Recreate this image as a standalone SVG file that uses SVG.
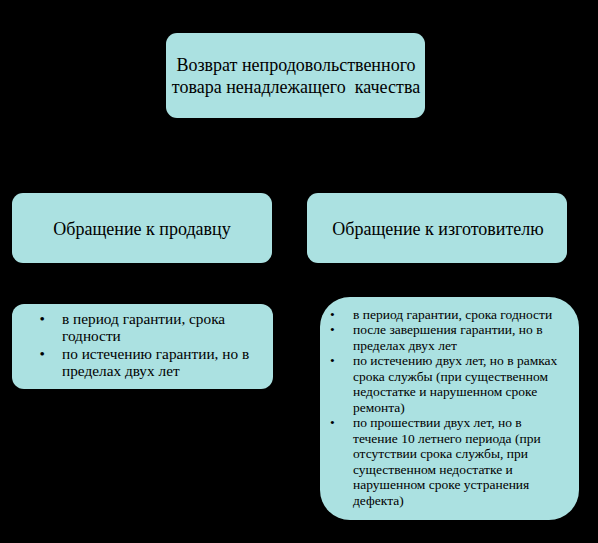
<svg xmlns="http://www.w3.org/2000/svg" width="598" height="543" viewBox="0 0 598 543">
<style>
.bg{fill:#000}
.box{fill:#abe1e1}
text{fill:#000;font-family:"Liberation Serif",serif}
.t18{font-size:18px}
.t15{font-size:15.3px}
.t13{font-size:13.5px}
.c{text-anchor:middle}
</style>
<rect class="bg" x="0" y="0" width="598" height="543"/>
<g id="connectors"></g>
<g id="node-root">
<rect class="box" x="166" y="33" width="259" height="85" rx="11"/>
<text class="t18 c" x="296" y="71">Возврат непродовольственного</text>
<text class="t18 c" x="296" y="93" xml:space="preserve">товара ненадлежащего  качества</text>
</g>
<g id="node-seller">
<rect class="box" x="12" y="193" width="260" height="70" rx="11"/>
<text class="t18 c" x="142" y="235">Обращение к продавцу</text>
</g>
<g id="node-maker">
<rect class="box" x="307" y="193" width="260" height="70" rx="11"/>
<text class="t18 c" x="438" y="235">Обращение к изготовителю</text>
</g>
<g id="node-seller-list">
<rect class="box" x="12" y="304" width="261" height="85" rx="12"/>
<text class="t15" x="39.5" y="323.5">•</text>
<text class="t15" x="62" y="323.5">в период гарантии, срока</text>
<text class="t15" x="62" y="341">годности</text>
<text class="t15" x="39.5" y="358.5">•</text>
<text class="t15" x="62" y="358.5">по истечению гарантии, но в</text>
<text class="t15" x="62" y="376">пределах двух лет</text>
</g>
<g id="node-maker-list">
<rect class="box" x="320" y="297" width="259" height="223" rx="30"/>
<text class="t13" x="330" y="318.5">•</text>
<text class="t13" x="353" y="318.5">в период гарантии, срока годности</text>
<text class="t13" x="330" y="334">•</text>
<text class="t13" x="353" y="334">после завершения гарантии, но в</text>
<text class="t13" x="353" y="349.5">пределах двух лет</text>
<text class="t13" x="330" y="365">•</text>
<text class="t13" x="353" y="365">по истечению двух лет, но в рамках</text>
<text class="t13" x="353" y="380.5">срока службы (при существенном</text>
<text class="t13" x="353" y="396">недостатке и нарушенном сроке</text>
<text class="t13" x="353" y="411.5">ремонта)</text>
<text class="t13" x="330" y="427">•</text>
<text class="t13" x="353" y="427">по прошествии двух лет, но в</text>
<text class="t13" x="353" y="442.5">течение 10 летнего периода (при</text>
<text class="t13" x="353" y="458">отсутствии срока службы, при</text>
<text class="t13" x="353" y="473.5">существенном недостатке и</text>
<text class="t13" x="353" y="489">нарушенном сроке устранения</text>
<text class="t13" x="353" y="504.5">дефекта)</text>
</g>
</svg>
